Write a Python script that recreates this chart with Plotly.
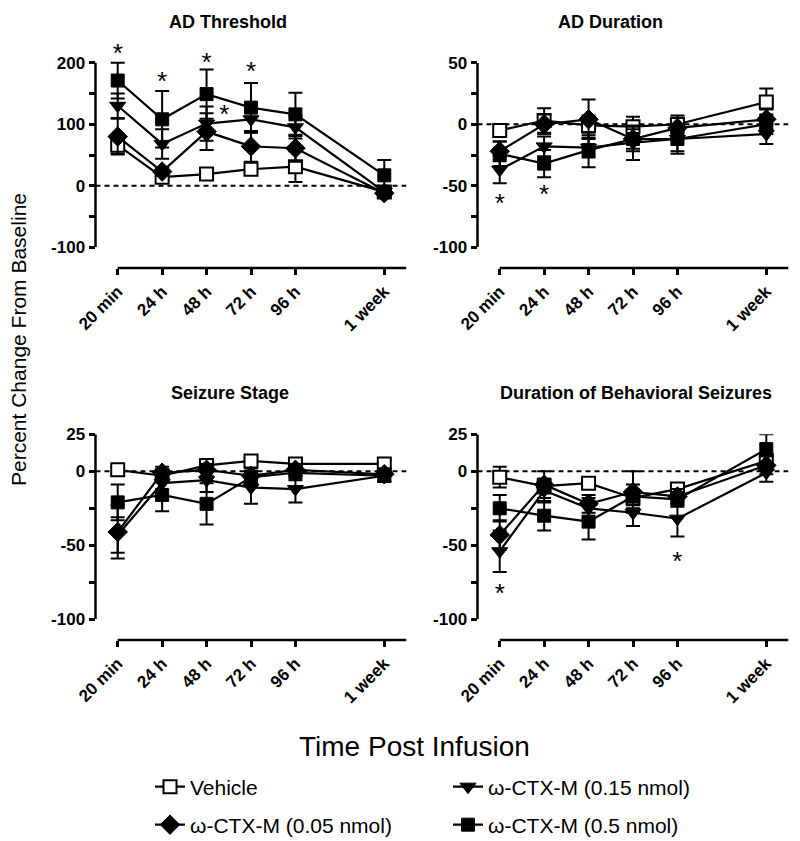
import plotly.graph_objects as go

# ---------------- data ----------------
time_labels = ["20 min", "24 h", "48 h", "72 h", "96 h", "1 week"]
time_pos = [0, 1, 2, 3, 4, 6]

series_names = ["Vehicle", "ω-CTX-M (0.15 nmol)", "ω-CTX-M (0.05 nmol)", "ω-CTX-M (0.5 nmol)"]

# AD Threshold
adt_veh = [66, 14, 19, 27, 31, -10]
adt_veh_err = [14, 6, 5, 8, 25, 8]
adt_015 = [130, 68, 101, 108, 95, -10]
adt_015_err = [20, 24, 28, 22, 18, 8]
adt_005 = [80, 23, 88, 64, 61, -12]
adt_005_err = [29, 6, 30, 25, 22, 8]
adt_05 = [171, 108, 149, 127, 116, 17]
adt_05_err = [29, 46, 40, 40, 35, 25]

# AD Duration
add_veh = [-5, 3, -1, -2, 0, 18]
add_veh_err = [5, 10, 8, 8, 7, 11]
add_015 = [-37, -18, -19, -15, -12, -8]
add_015_err = [11, 8, 8, 14, 10, 8]
add_005 = [-22, 0, 4, -12, -3, 4]
add_005_err = [8, 8, 16, 8, 8, 8]
add_05 = [-24, -32, -21, -12, -12, 0]
add_05_err = [10, 11, 14, 10, 12, 8]

# Seizure Stage
ss_veh = [1, -3, 4, 7, 5, 5]
ss_veh_err = [3, 4, 3, 3, 3, 3]
ss_015 = [-43, -8, -6, -11, -12, -3]
ss_015_err = [12, 8, 8, 11, 9, 4]
ss_005 = [-41, -1, 1, -3, 1, -2]
ss_005_err = [18, 4, 4, 5, 4, 4]
ss_05 = [-21, -16, -22, -4, -1, -3]
ss_05_err = [12, 11, 14, 6, 5, 4]

# Duration of Behavioral Seizures
dbs_veh = [-4, -10, -8, -18, -12, 7]
dbs_veh_err = [7, 5, 4, 5, 4, 5]
dbs_015 = [-54, -13, -25, -28, -32, -1]
dbs_015_err = [14, 8, 7, 9, 12, 6]
dbs_005 = [-43, -9, -22, -14, -17, 4]
dbs_005_err = [10, 9, 6, 14, 5, 6]
dbs_05 = [-25, -30, -34, -17, -19, 15]
dbs_05_err = [9, 10, 12, 8, 5, 10]

panel_titles = ["AD Threshold", "AD Duration", "Seizure Stage", "Duration of Behavioral Seizures"]

# significance markers (x position, y value of the asterisk)
adt_star_x = [0, 1, 2, 3, 2.4]
adt_star_y = [212, 167, 197, 182, 112]
add_star_x = [0, 1]
add_star_y = [-66, -59]
dbs_star_x = [0, 4]
dbs_star_y = [-84, -62]

panels = [
    dict(series=[(adt_veh, adt_veh_err), (adt_015, adt_015_err), (adt_005, adt_005_err), (adt_05, adt_05_err)],
         stars=(adt_star_x, adt_star_y),
         yrange=[-100, 200], headroom=30,
         tickvals=[-100, -50, 0, 50, 100, 150, 200],
         ticktext=["-100", "", "0", "", "100", "", "200"]),
    dict(series=[(add_veh, add_veh_err), (add_015, add_015_err), (add_005, add_005_err), (add_05, add_05_err)],
         stars=(add_star_x, add_star_y),
         yrange=[-100, 50], headroom=0,
         tickvals=[-100, -75, -50, -25, 0, 25, 50],
         ticktext=["-100", "", "-50", "", "0", "", "50"]),
    dict(series=[(ss_veh, ss_veh_err), (ss_015, ss_015_err), (ss_005, ss_005_err), (ss_05, ss_05_err)],
         stars=([], []),
         yrange=[-100, 25], headroom=0,
         tickvals=[-100, -75, -50, -25, 0, 25],
         ticktext=["-100", "", "-50", "", "0", "25"]),
    dict(series=[(dbs_veh, dbs_veh_err), (dbs_015, dbs_015_err), (dbs_005, dbs_005_err), (dbs_05, dbs_05_err)],
         stars=(dbs_star_x, dbs_star_y),
         yrange=[-100, 25], headroom=0,
         tickvals=[-100, -75, -50, -25, 0, 25],
         ticktext=["-100", "", "-50", "", "0", "25"]),
]

# ---------------- styling ----------------
OFF = 8                     # default page body margin
W, H = 800 - OFF, 841 - OFF
FONT = "Liberation Sans, Arial, sans-serif"


def PX(px):
    return (px - OFF) / W


def PY(py):
    return 1 - (py - OFF) / H


markers = [
    dict(symbol="square", size=13, color="white", line=dict(color="black", width=2)),
    dict(symbol="triangle-down", size=14, color="black", line=dict(color="black", width=1)),
    dict(symbol="diamond", size=15, color="black", line=dict(color="black", width=1)),
    dict(symbol="square", size=13, color="black", line=dict(color="black", width=1)),
]
legend_ids = ["legend", "legend", "legend2", "legend2"]

# screen geometry of each panel: (left, right, top, bottom, x-axis line y)
geom = [
    (95.5, 406.5, 62.7, 247.3, 268),
    (477.5, 788.5, 62.7, 247.3, 268),
    (95.5, 406.5, 434.3, 619.3, 640),
    (477.5, 788.5, 434.3, 619.3, 640),
]
title_pos = [(228, 22), (610, 22), (230, 393), (636, 393)]

fig = go.Figure()
layout = {}
shapes = []
annotations = []

for i, p in enumerate(panels):
    k = "" if i == 0 else str(i + 1)
    xa, ya = "x" + k, "y" + k
    l, r, t, b, xl = geom[i]
    lo, hi = p["yrange"]
    # extra room above the axis top so that asterisks above it stay visible
    t_view = t - p["headroom"] * (b - t) / (hi - lo)
    shapes.append(dict(type="line", xref=xa, yref=ya, x0=-0.5, x1=6.5, y0=0, y1=0,
                       line=dict(color="black", width=2, dash="5px,4px"), layer="below"))
    # x axis line starting at the first time point
    shapes.append(dict(type="line", xref=xa, yref="paper", x0=0, x1=6.5,
                       y0=PY(xl), y1=PY(xl), line=dict(color="black", width=2.5)))
    # y axis line spanning the labelled range only
    shapes.append(dict(type="line", xref=xa + " domain", yref=ya, x0=0, x1=0, y0=lo, y1=hi,
                       line=dict(color="black", width=2.5)))
    for j, (vals, errs) in enumerate(p["series"]):
        fig.add_trace(go.Scatter(
            x=time_pos, y=vals, mode="lines+markers", name=series_names[j],
            xaxis=xa, yaxis=ya, cliponaxis=False,
            line=dict(color="black", width=2.2),
            marker=markers[j],
            error_y=dict(type="data", array=errs, visible=True, color="black", thickness=2, width=7),
            showlegend=(i == 0), legend=legend_ids[j],
        ))
    sx, sy = p["stars"]
    if sx:
        fig.add_trace(go.Scatter(
            x=sx, y=sy, mode="text", text=["*"] * len(sx), textposition="middle center",
            textfont=dict(size=26, color="black", family=FONT),
            xaxis=xa, yaxis=ya, cliponaxis=False, showlegend=False, hoverinfo="skip",
        ))
    layout["xaxis" + k] = dict(domain=[PX(l), PX(r)], range=[-0.5, 6.5], anchor="free",
                               position=PY(xl), tickvals=time_pos, ticktext=time_labels,
                               tickangle=-45, ticks="outside", ticklen=6, tickwidth=2.5,
                               tickcolor="black", showgrid=False, zeroline=False, showline=False,
                               automargin=False,
                               tickfont=dict(family=FONT, size=17, color="black", weight="bold"))
    layout["yaxis" + k] = dict(domain=[PY(b), PY(t_view)], range=[lo, hi + p["headroom"]], anchor=xa,
                               tickvals=p["tickvals"], ticktext=p["ticktext"],
                               ticks="outside", ticklen=6, tickwidth=2.5, tickcolor="black",
                               showline=False,
                               showgrid=False, zeroline=False, automargin=False,
                               tickfont=dict(family=FONT, size=17, color="black", weight="bold"))
    tx, ty = title_pos[i]
    annotations.append(dict(x=PX(tx), y=PY(ty), xref="paper", yref="paper",
                            xanchor="center", yanchor="middle",
                            text="<b>" + panel_titles[i] + "</b>", showarrow=False,
                            font=dict(size=18, color="black", family=FONT)))

annotations.append(dict(x=PX(18), y=PY(340), xref="paper", yref="paper",
                        xanchor="center", yanchor="middle",
                        text="Percent Change From Baseline", textangle=-90, showarrow=False,
                        font=dict(size=21, color="black", family=FONT)))
annotations.append(dict(x=PX(414), y=PY(746), xref="paper", yref="paper",
                        xanchor="center", yanchor="middle",
                        text="Time Post Infusion", showarrow=False,
                        font=dict(size=28, color="black", family=FONT)))

leg_common = dict(orientation="h", xanchor="left", yanchor="middle", entrywidth=253,
                  entrywidthmode="pixels", itemwidth=30, traceorder="normal",
                  bgcolor="rgba(0,0,0,0)", font=dict(size=21, color="black", family=FONT))
layout["legend"] = dict(x=PX(150), y=PY(787), **leg_common)
layout["legend2"] = dict(x=PX(150), y=PY(825), **leg_common)

fig.update_layout(width=W, height=H, margin=dict(l=0, r=0, t=0, b=0, autoexpand=False),
                  plot_bgcolor="white", paper_bgcolor="white",
                  shapes=shapes, annotations=annotations, **layout)

fig.write_html("out.html")
